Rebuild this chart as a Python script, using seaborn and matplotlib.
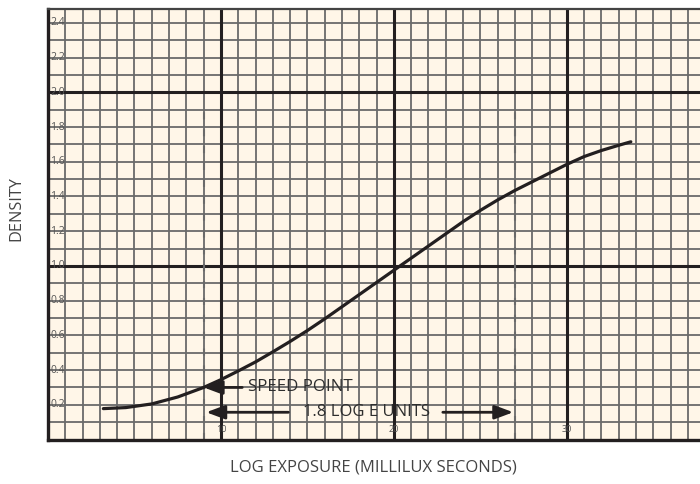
import numpy as np
import pandas as pd
import seaborn as sns
import matplotlib.pyplot as plt

# characteristic curve (x in tenths of log E)
log_exposure = [3.2, 4.5, 6.0, 7.5, 9.0, 10.0, 11.0, 12.0, 13.0, 14.0, 15.0,
                16.0, 17.0, 18.0, 19.0, 20.0, 21.0, 22.0, 23.0, 24.0, 25.0,
                26.0, 27.0, 28.0, 29.0, 30.0, 31.0, 32.0, 33.0, 33.7]
density = [0.178, 0.184, 0.205, 0.245, 0.300, 0.345, 0.395, 0.447, 0.505,
           0.565, 0.628, 0.695, 0.765, 0.835, 0.905, 0.975, 1.045, 1.115,
           1.185, 1.255, 1.320, 1.380, 1.435, 1.485, 1.535, 1.585, 1.630,
           1.665, 1.695, 1.715]

y_tick_values = [0.2, 0.4, 0.6, 0.8, 1.0, 1.2, 1.4, 1.6, 1.8, 2.0, 2.2, 2.4]
x_tick_values = [10, 20, 30]
x_tick_labels = ["10", "20", "30"]

speed_x = 9.0
speed_density = 0.30
log_e_span = 18.0   # 1.8 log E units

df = pd.DataFrame({"log_exposure": log_exposure, "density": density})

sns.set_style("white")
plt.rcParams["font.family"] = ["Open Sans", "DejaVu Sans"]

paper = "#fff6e8"
ink = "#231f20"
grey = "#6a6a6a"

fig = plt.figure(figsize=(7, 4.84), dpi=100)
ax = fig.add_axes([0.0686, 0.0919, 0.9314, 0.8895])
ax.set_facecolor(paper)

ax.set_xlim(0, 37.7)
ax.set_ylim(0, 2.48)

# graph paper: fine lines every cell, heavy lines every 10 cells
ax.set_xticks(np.arange(0, 38, 1))
ax.set_yticks(np.round(np.arange(0, 2.5, 0.1), 2))
ax.set_xticks(np.arange(0, 37.8, 0.2), minor=True)
ax.set_yticks(np.arange(0, 2.48, 0.02), minor=True)
ax.grid(True, which="major", color=grey, lw=1.3)
ax.tick_params(which="both", direction="in", length=3, width=0.8, color=ink,
               labelbottom=False, labelleft=False)
for v in x_tick_values:
    ax.axvline(v, color=ink, lw=2.2, zorder=1.5)
for v in [1.0, 2.0]:
    ax.axhline(v, color=ink, lw=2.2, zorder=1.5)

for side in ["left", "bottom"]:
    ax.spines[side].set_color(ink)
    ax.spines[side].set_linewidth(2.4)
ax.spines["top"].set_color("#444444")
ax.spines["top"].set_linewidth(1.6)
ax.spines["right"].set_visible(False)

# labels printed on the paper
for v in y_tick_values:
    ax.text(0.12, v, f"{v:.1f}", fontsize=7.5, color="#555555",
            ha="left", va="center", zorder=3)
for v, lab in zip(x_tick_values, x_tick_labels):
    ax.text(v, 0.056, lab, fontsize=6.5, color="#555555",
            ha="center", va="center", zorder=3)

# speed point and 1.8 log E markers
ax.vlines([speed_x, speed_x + log_e_span], 0, 1.94, colors=grey, lw=1.5,
          linestyles=(0, (3.4, 4.7)), zorder=2)

sns.lineplot(data=df, x="log_exposure", y="density", ax=ax, color=ink,
             lw=2.3, zorder=4)

arrow = dict(arrowstyle="-|>,head_length=0.75,head_width=0.28", lw=2,
             color=ink, mutation_scale=15, shrinkA=0, shrinkB=0)
ax.annotate("", xy=(speed_x, speed_density), xytext=(11.23, speed_density),
            arrowprops=arrow, zorder=5)
ax.text(11.55, speed_density, "SPEED POINT", fontsize=12.2,
        color="#2e2e2e", ha="left", va="center")

ax.annotate("", xy=(speed_x + 0.15, 0.157), xytext=(13.9, 0.157),
            arrowprops=arrow, zorder=5)
ax.annotate("", xy=(speed_x + log_e_span - 0.1, 0.157), xytext=(22.83, 0.157),
            arrowprops=arrow, zorder=5)
ax.text(18.4, 0.157, "1.8 LOG E UNITS", fontsize=12,
        color="#2e2e2e", ha="center", va="center")

ax.set_xlabel("")
ax.set_ylabel("")
fig.text(0.534, 0.035, "LOG EXPOSURE (MILLILUX SECONDS)", fontsize=12,
         color="#444444", ha="center", va="center")
fig.text(0.0229, 0.569, "DENSITY", fontsize=11.7,
         color="#444444", rotation=90, ha="center", va="center")

fig.savefig("out.png", dpi=100, facecolor="white")
